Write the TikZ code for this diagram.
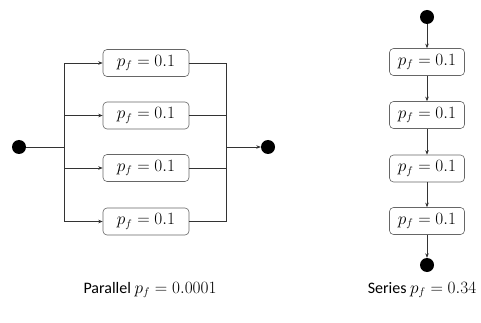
\documentclass[tikz,border=0pt]{standalone}
\usepackage{fontspec}
\setmainfont{Carlito}
\usetikzlibrary{arrows.meta}
\begin{document}
\begin{tikzpicture}[x=1pt,y=-1pt,
  font=\fontsize{16}{18}\selectfont,
  wire/.style={draw=black!80,line width=0.6pt},
  arr/.style={wire,-{Stealth[length=4.5pt,width=3.5pt]}},
  unit/.style={draw=black!60,line width=0.6pt,rounded corners=4pt,
    minimum height=27pt,inner sep=0pt},
  punit/.style={unit,minimum width=86pt},
  sunit/.style={unit,minimum width=75pt},
  terminal/.style={circle,fill=black,minimum size=14pt,inner sep=0pt}]
\useasboundingbox (0,0) rectangle (481,323);

% parallel arrangement
\node[terminal] (pin) at (19,147) {};
\node[terminal] (pout) at (268,147) {};
\coordinate (jl) at (64,147);
\coordinate (jr) at (226,147);
\node[punit] (p1) at (146,63)  {$p_f = 0.1$};
\node[punit] (p2) at (146,115.5) {$p_f = 0.1$};
\node[punit] (p3) at (146,168) {$p_f = 0.1$};
\node[punit] (p4) at (146,221.5) {$p_f = 0.1$};
\draw[wire] (pin) -- (jl);
\foreach \b in {p1,p2,p3,p4}{
  \draw[arr] (jl) |- (\b.west);
  \draw[wire] (\b.east) -| (jr);
}
\draw[arr] (jr) -- (pout);

% series arrangement
\node[terminal] (sin) at (427,17) {};
\node[sunit] (s1) at (427,62)  {$p_f = 0.1$};
\node[sunit] (s2) at (427,115) {$p_f = 0.1$};
\node[sunit] (s3) at (427,168.5) {$p_f = 0.1$};
\node[sunit] (s4) at (427,221) {$p_f = 0.1$};
\node[terminal] (sout) at (427,265) {};
\draw[arr] (sin) -- (s1);
\draw[arr] (s1) -- (s2);
\draw[arr] (s2) -- (s3);
\draw[arr] (s3) -- (s4);
\draw[arr] (s4) -- (sout);

% captions
\node (cp) at (150,290) {Parallel $p_f = 0.0001$};
\node (cs) at (422,290) {Series $p_f = 0.34$};
\end{tikzpicture}
\end{document}
